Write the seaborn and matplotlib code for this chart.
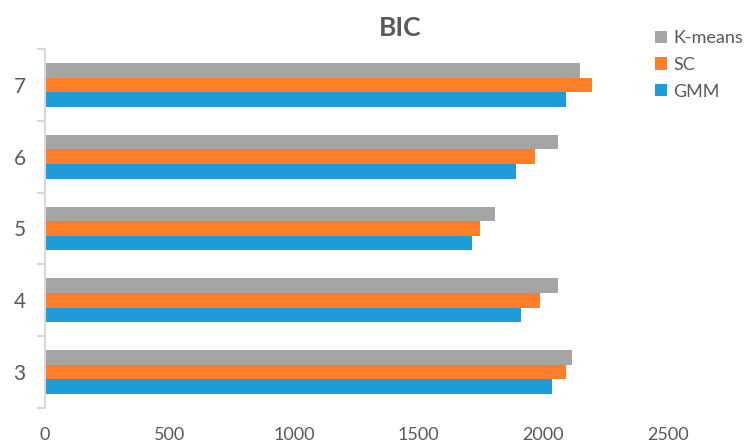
import numpy as np
import pandas as pd
import matplotlib
matplotlib.use("Agg")
import matplotlib.pyplot as plt
from matplotlib.patches import Patch
import seaborn as sns

# BIC scores per number of clusters
clusters = ["7", "6", "5", "4", "3"]
kmeans = [2145, 2060, 1805, 2060, 2115]
sc = [2195, 1965, 1745, 1985, 2090]
gmm = [2090, 1890, 1715, 1910, 2035]
methods = ["K-means", "SC", "GMM"]
xticks = [0, 500, 1000, 1500, 2000, 2500]

colors = {"K-means": "#A5A5A5", "SC": "#FE7F27", "GMM": "#1D9CD8"}
text_color = "#595959"
axis_color = "#D9D9D9"

df = pd.DataFrame({
    "k": clusters * 3,
    "method": ["K-means"] * 5 + ["SC"] * 5 + ["GMM"] * 5,
    "bic": kmeans + sc + gmm,
})

sns.set_theme(style="white")
plt.rcParams["font.family"] = ["Lato", "DejaVu Sans"]

fig = plt.figure(figsize=(7.45, 4.46), dpi=100)
ax = fig.add_axes([45 / 745, 1 - 408 / 446, (668 - 45) / 745, (408 - 49) / 446])

sns.barplot(data=df, y="k", x="bic", hue="method", order=clusters,
            hue_order=methods, palette=colors, orient="h", width=0.61,
            dodge=True, saturation=1, linewidth=0, legend=False, ax=ax)

ax.set_xlim(0, 2500)
ax.set_ylim(4.5, -0.5)
ax.set_xticks(xticks)
ax.set_xticklabels([str(v) for v in xticks])
ax.set_xlabel("")
ax.set_ylabel("")

for side in ["top", "right", "bottom"]:
    ax.spines[side].set_visible(False)
ax.spines["left"].set_color(axis_color)
ax.spines["left"].set_linewidth(1.5)

ax.tick_params(axis="x", length=0, pad=14, labelsize=13, labelcolor=text_color)
ax.tick_params(axis="y", which="major", length=0, pad=14, labelsize=15,
               labelcolor=text_color)
ax.set_yticks(np.arange(-0.5, 5.0, 1.0), minor=True)
ax.tick_params(axis="y", which="minor", length=6, width=1.5, color=axis_color,
               direction="out", left=True)

fig.text(400 / 745, 1 - 28 / 446, "BIC", ha="center", va="center",
         fontsize=19, fontweight="bold", color=text_color)

handles = [Patch(facecolor=colors[m], edgecolor="none", label=m) for m in methods]
fig.legend(handles=handles, loc="upper left", bbox_to_anchor=(655 / 745, 1 - 30 / 446),
           frameon=False, fontsize=13, labelcolor=text_color,
           handlelength=0.65, handleheight=0.65, handletextpad=0.35,
           labelspacing=0.6, borderaxespad=0, borderpad=0)

fig.savefig("out.png", dpi=100)
